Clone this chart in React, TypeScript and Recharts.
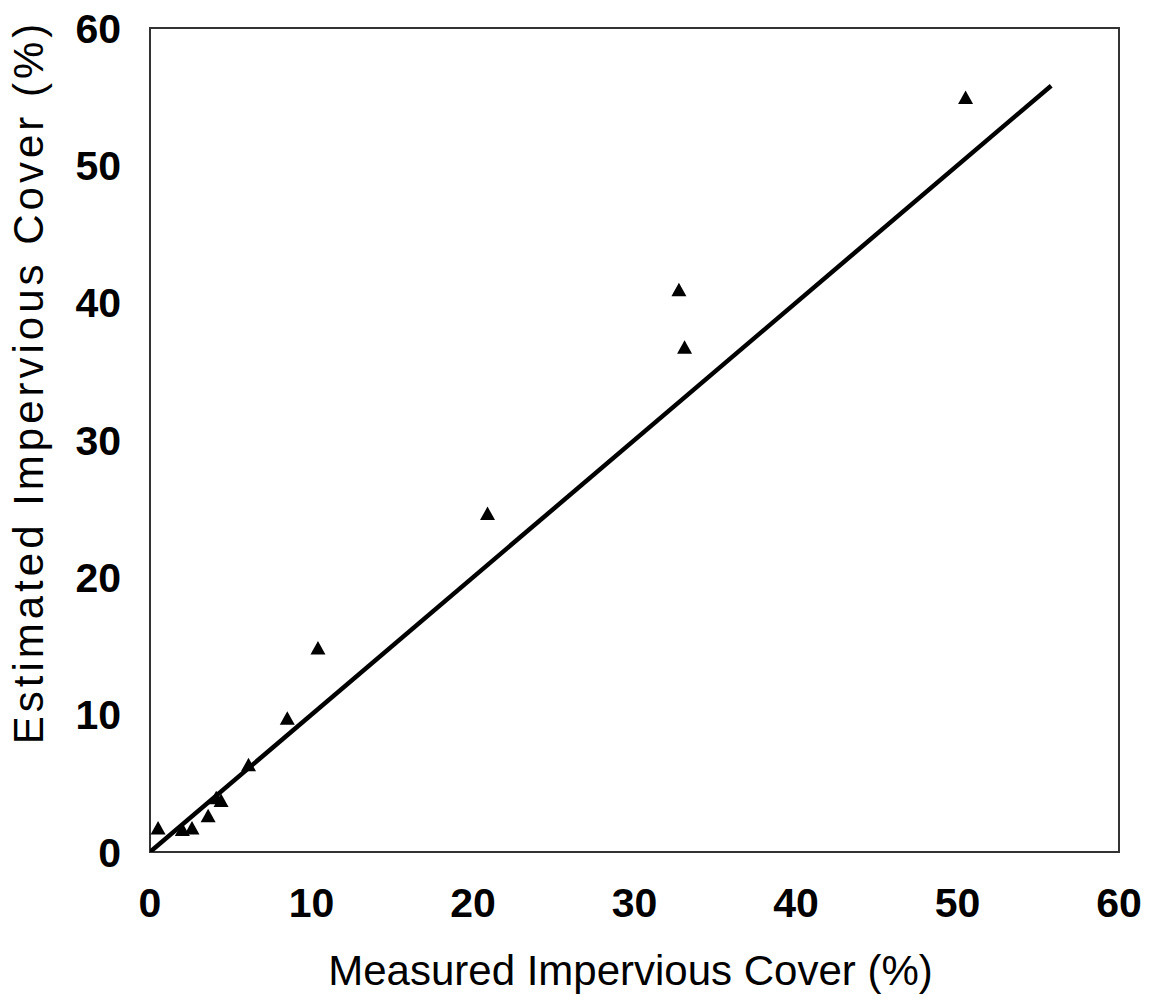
import React from "react";
import { ScatterChart, Scatter, XAxis, YAxis, ReferenceArea, Label } from "recharts";

const measured = [0.5, 2.0, 2.6, 3.6, 4.1, 4.4, 6.1, 8.5, 10.4, 20.9, 32.75, 33.1, 50.5];
const estimated = [1.6, 1.5, 1.6, 2.5, 3.8, 3.6, 6.2, 9.6, 14.7, 24.5, 40.8, 36.6, 54.8];
const fitX = [0, 55.8];
const fitY = [0, 55.8];
const ticks = [0, 10, 20, 30, 40, 50, 60];
const xTitle = "Measured Impervious Cover (%)";
const yTitle = "Estimated Impervious Cover (%)";

const points = measured.map((x, i) => ({ x, y: estimated[i] }));
const fitLine = fitX.map((x, i) => ({ x, y: fitY[i] }));

const FONT = "'Liberation Sans', Arial, sans-serif";

const Triangle = (props: any) => {
  const { cx, cy } = props;
  const s = 15;
  const h = s * 0.9;
  return (
    <path
      d={`M${cx},${cy - (h * 2) / 3} L${cx + s / 2},${cy + h / 3} L${cx - s / 2},${cy + h / 3} Z`}
      fill="#000"
    />
  );
};

export default function App() {
  return (
    <div style={{ position: "absolute", left: 0, top: 0, background: "#fff" }}>
      <ScatterChart
        width={1151}
        height={995}
        margin={{ top: 28, right: 32, bottom: 10, left: 10 }}
      >
        <XAxis
          type="number"
          dataKey="x"
          domain={[0, 60]}
          ticks={ticks}
          tickLine={false}
          tickSize={0}
          tickMargin={36}
          axisLine={{ stroke: "#333", strokeWidth: 2 }}
          height={133}
          tick={{ fill: "#000", fontSize: 41, fontWeight: "bold", fontFamily: FONT }}
          allowDataOverflow
        >
          <Label
            content={(p: any) => {
              const vb = p.viewBox;
              return (
                <text
                  x={vb.x + vb.width / 2 - 4}
                  y={985}
                  textAnchor="middle"
                  fontSize={42}
                  fontFamily={FONT}
                  fill="#000"
                >
                  {xTitle}
                </text>
              );
            }}
          />
        </XAxis>
        <YAxis
          type="number"
          dataKey="y"
          domain={[0, 60]}
          ticks={ticks}
          tickLine={false}
          tickSize={0}
          tickMargin={29}
          axisLine={{ stroke: "#333", strokeWidth: 2 }}
          width={140}
          tick={{ fill: "#000", fontSize: 41, fontWeight: "bold", fontFamily: FONT }}
          allowDataOverflow
        >
          <Label
            content={(p: any) => {
              const vb = p.viewBox;
              const cy = vb.y + vb.height / 2 - 58;
              return (
                <text
                  x={43}
                  y={cy}
                  transform={`rotate(-90, 43, ${cy})`}
                  textAnchor="middle"
                  fontSize={42}
                  fontFamily={FONT}
                  letterSpacing={4}
                  fill="#000"
                >
                  {yTitle}
                </text>
              );
            }}
          />
        </YAxis>
        <ReferenceArea
          x1={0}
          x2={60}
          y1={0}
          y2={60}
          fill="none"
          stroke="#333"
          strokeWidth={2}
          fillOpacity={0}
        />
        <Scatter
          data={fitLine}
          line={{ stroke: "#000", strokeWidth: 4.5 }}
          shape={() => null}
          isAnimationActive={false}
        />
        <Scatter data={points} shape={<Triangle />} isAnimationActive={false} />
      </ScatterChart>
    </div>
  );
}
